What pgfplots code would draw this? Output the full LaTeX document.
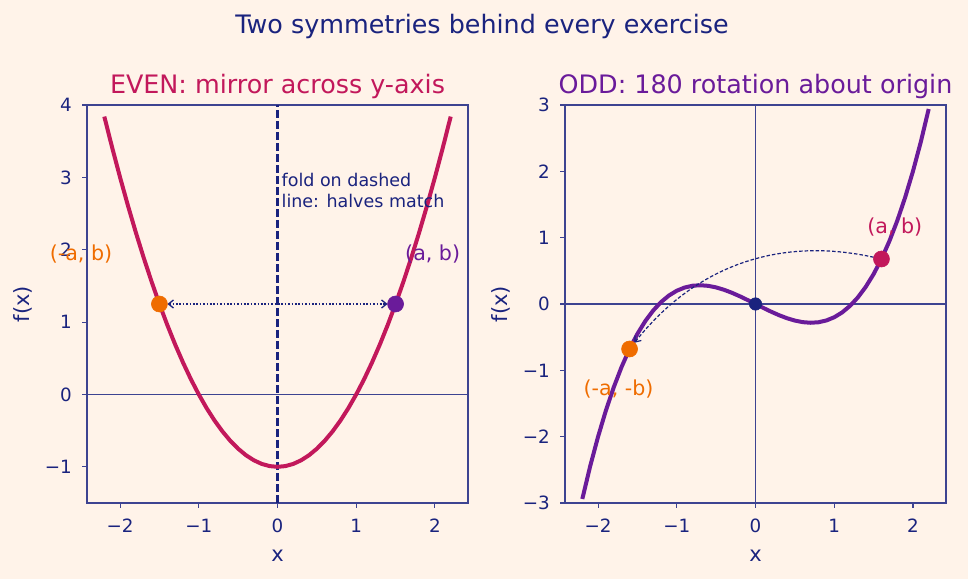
\documentclass[border=0pt]{standalone}
\usepackage{pgfplots}
\pgfplotsset{compat=1.18}
\usepackage{fontspec}
\setmainfont{DejaVu Sans}
\usetikzlibrary{arrows.meta}

\definecolor{bg}{HTML}{FFF3E9}
\definecolor{navy}{HTML}{1A237E}
\definecolor{spine}{HTML}{3D4391}
\definecolor{crimson}{HTML}{C2185B}
\definecolor{violet}{HTML}{6A1B9A}
\definecolor{amber}{HTML}{EF6C00}

\newcommand{\fs}[1]{\fontsize{#1}{1.2\dimexpr#1\relax}\selectfont}

\pgfplotsset{
  panel/.style={
    scale only axis, width=381bp, height=398bp, anchor=south west,
    clip=false,
    xmin=-2.42, xmax=2.42,
    axis line style={spine, line width=1.1bp},
    tick style={spine, line width=1.1bp},
    major tick length=5bp, tick align=outside, tick pos=left,
    xtick={-2,-1,0,1,2}, xticklabels={−2,−1,0,1,2},
    ticklabel style={font=\fs{18.3bp}, text=navy, inner sep=0pt},
    xticklabel style={anchor=base, yshift=-24.3bp},
    yticklabel style={anchor=east, xshift=-10bp},
  },
  fnline/.style={line width=4bp, line join=round, color=#1},
  dot/.style={only marks, mark=*, mark size=8bp, color=#1,
    mark options={solid, draw=#1, fill=#1, line width=0.6bp}},
}

\begin{document}
\begin{tikzpicture}
\path[use as bounding box, fill=bg] (0,0) rectangle (968bp,579bp);

\node[anchor=base, font=\fs{25.4bp}, text=navy] at (482bp,545bp)
  {Two symmetries behind every exercise};

% ---------------- even function: f(x) = x^2 - 1 ----------------
\begin{axis}[panel, at={(87bp,76bp)},
  ymin=-1.5, ymax=4, ytick={-1,0,1,2,3,4}, yticklabels={−1,0,1,2,3,4}]
\draw[spine, line width=1.2bp] (axis cs:-2.42,0) -- (axis cs:2.42,0);
\draw[navy, line width=2.4bp, dash pattern=on 7.5bp off 3.5bp]
  (axis cs:0,-1.5) -- (axis cs:0,4);
\addplot[fnline=crimson] coordinates {
  (-2.2,3.84) (-2.1,3.41) (-2.0,3.00) (-1.9,2.61) (-1.8,2.24) (-1.7,1.89)
  (-1.6,1.56) (-1.5,1.25) (-1.4,0.96) (-1.3,0.69) (-1.2,0.44) (-1.1,0.21)
  (-1.0,0.00) (-0.9,-0.19) (-0.8,-0.36) (-0.7,-0.51) (-0.6,-0.64) (-0.5,-0.75)
  (-0.4,-0.84) (-0.3,-0.91) (-0.2,-0.96) (-0.1,-0.99) (0.0,-1.00)
  (0.1,-0.99) (0.2,-0.96) (0.3,-0.91) (0.4,-0.84) (0.5,-0.75) (0.6,-0.64)
  (0.7,-0.51) (0.8,-0.36) (0.9,-0.19) (1.0,0.00) (1.1,0.21) (1.2,0.44)
  (1.3,0.69) (1.4,0.96) (1.5,1.25) (1.6,1.56) (1.7,1.89) (1.8,2.24)
  (1.9,2.61) (2.0,3.00) (2.1,3.41) (2.2,3.84)};
\addplot[dot=amber] coordinates {(-1.5,1.25)};
\addplot[dot=violet] coordinates {(1.5,1.25)};
\draw[navy, line width=1.3bp, dash pattern=on 1.6bp off 1.8bp,
      {Straight Barb[length=5bp,width=8bp]}-{Straight Barb[length=5bp,width=8bp]},
      shorten <=8bp, shorten >=8bp]
  (axis cs:-1.5,1.25) -- (axis cs:1.5,1.25);
\node[anchor=north west, inner sep=0pt, align=left, font=\fs{17.5bp}, text=navy]
  at (axis cs:0.05,3.06) {fold on dashed\\line: halves match};
\node[font=\fs{20.6bp}, text=amber, inner sep=0pt] at (axis cs:-2.496,1.94) {(-a, b)};
\node[anchor=west, font=\fs{20.6bp}, text=violet, inner sep=0pt] at (axis cs:1.62,1.94) {(a, b)};
\node[anchor=base, font=\fs{25.4bp}, text=crimson]
  at ([yshift=11.7bp]rel axis cs:0.5,1) {EVEN: mirror across y-axis};
\node[anchor=base, font=\fs{21bp}, text=navy] at ([yshift=-58bp]rel axis cs:0.5,0) {x};
\node[rotate=90, font=\fs{21bp}, text=navy] at ([xshift=-63.6bp]rel axis cs:0,0.5) {f(x)};
\end{axis}

% ---------------- odd function: f(x) = 0.4x^3 - 0.6x ----------------
\begin{axis}[panel, at={(565bp,76bp)},
  ymin=-3, ymax=3, ytick={-3,-2,-1,0,1,2,3}, yticklabels={−3,−2,−1,0,1,2,3}]
\draw[spine, line width=1.2bp] (axis cs:-2.42,0) -- (axis cs:2.42,0);
\draw[spine, line width=1.2bp] (axis cs:0,-3) -- (axis cs:0,3);
\addplot[fnline=violet] coordinates {
  (-2.2,-2.9392) (-2.1,-2.4444) (-2.0,-2.0000) (-1.9,-1.6036) (-1.8,-1.2528)
  (-1.7,-0.9452) (-1.6,-0.6784) (-1.5,-0.4500) (-1.4,-0.2576) (-1.3,-0.0988)
  (-1.2,0.0288) (-1.1,0.1276) (-1.0,0.2000) (-0.9,0.2484) (-0.8,0.2752)
  (-0.7,0.2828) (-0.6,0.2736) (-0.5,0.2500) (-0.4,0.2144) (-0.3,0.1692)
  (-0.2,0.1168) (-0.1,0.0596) (0.0,0.0000)
  (0.1,-0.0596) (0.2,-0.1168) (0.3,-0.1692) (0.4,-0.2144) (0.5,-0.2500)
  (0.6,-0.2736) (0.7,-0.2828) (0.8,-0.2752) (0.9,-0.2484) (1.0,-0.2000)
  (1.1,-0.1276) (1.2,-0.0288) (1.3,0.0988) (1.4,0.2576) (1.5,0.4500)
  (1.6,0.6784) (1.7,0.9452) (1.8,1.2528) (1.9,1.6036) (2.0,2.0000)
  (2.1,2.4444) (2.2,2.9392)};
\addplot[dot=navy, mark size=6.2bp] coordinates {(0,0)};
\addplot[dot=crimson] coordinates {(1.6,0.6784)};
\addplot[dot=amber] coordinates {(-1.6,-0.6784)};
\draw[navy, line width=1.2bp, dash pattern=on 3.5bp off 2bp,
      -{Straight Barb[length=5bp,width=8bp]}, shorten <=8bp, shorten >=8bp]
  (axis cs:1.6,0.6784) .. controls (axis cs:0.295,1.022) and (axis cs:-0.771,0.570)
  .. (axis cs:-1.6,-0.6784);
\node[font=\fs{20.6bp}, text=crimson, inner sep=0pt] at (axis cs:1.77,1.16) {(a, b)};
\node[font=\fs{20.6bp}, text=amber, inner sep=0pt] at (axis cs:-1.74,-1.28) {(-a, -b)};
\node[anchor=base, font=\fs{25.4bp}, text=violet]
  at ([yshift=11.7bp]rel axis cs:0.5,1) {ODD: 180 rotation about origin};
\node[anchor=base, font=\fs{21bp}, text=navy] at ([yshift=-58bp]rel axis cs:0.5,0) {x};
\node[rotate=90, font=\fs{21bp}, text=navy] at ([xshift=-63.6bp]rel axis cs:0,0.5) {f(x)};
\end{axis}
\end{tikzpicture}
\end{document}
